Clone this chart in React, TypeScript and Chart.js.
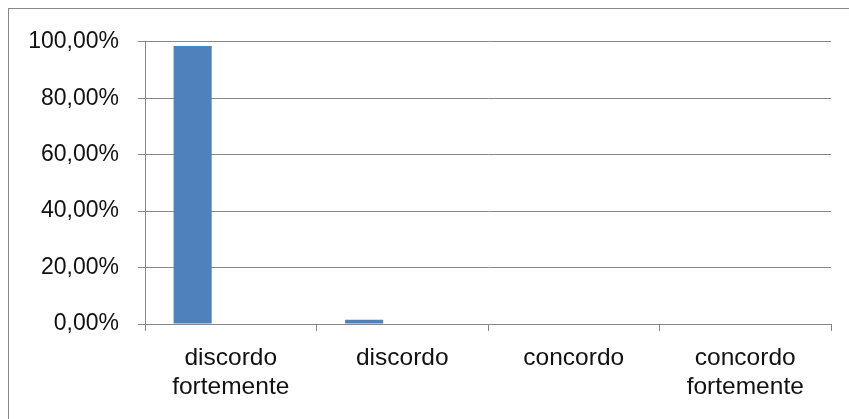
import React, { useEffect, useRef } from "react";
import { Chart, registerables } from "chart.js";

Chart.register(...registerables);

const categories: string[][] = [
  ["discordo", "fortemente"],
  ["discordo"],
  ["concordo"],
  ["concordo", "fortemente"],
];
const seriesValues: number[] = [98.5, 1.5, 0, 0];
const emptySeriesA: number[] = [];
const emptySeriesB: number[] = [];
const yTickValues: number[] = [0, 20, 40, 60, 80, 100];

const FONT = "'Liberation Sans', Arial, sans-serif";
const GRID = "#878787";

export default function App() {
  const ref = useRef<HTMLCanvasElement | null>(null);
  useEffect(() => {
    if (!ref.current) return;
    const chart = new Chart(ref.current, {
      type: "bar",
      data: {
        labels: categories,
        datasets: [
          { label: "s1", data: seriesValues, backgroundColor: "#4F81BD", barPercentage: 1, categoryPercentage: 3 / 4.5 },
          { label: "s2", data: emptySeriesA, backgroundColor: "#C0504D", barPercentage: 1, categoryPercentage: 3 / 4.5 },
          { label: "s3", data: emptySeriesB, backgroundColor: "#9BBB59", barPercentage: 1, categoryPercentage: 3 / 4.5 },
        ],
      },
      options: {
        animation: false,
        responsive: false,
        devicePixelRatio: 1,
        layout: { padding: { left: 0, top: 31, right: 18, bottom: 0 } },
        plugins: { legend: { display: false }, tooltip: { enabled: false } },
        scales: {
          x: {
            grid: { offset: true, drawOnChartArea: false, drawTicks: true, tickLength: 7, color: GRID, lineWidth: 1 },
            border: { color: GRID },
            ticks: { color: "#111", font: { family: FONT, size: 24.5, lineHeight: 1.18 }, padding: 13, maxRotation: 0, autoSkip: false },
            afterFit: (s: any) => { s.height = 95; },
          },
          y: {
            min: 0,
            max: 100,
            afterBuildTicks: (s: any) => { s.ticks = yTickValues.map((v) => ({ value: v })); },
            grid: { color: GRID, tickLength: 7, lineWidth: 1 },
            border: { color: GRID },
            ticks: {
              color: "#111",
              font: { family: FONT, size: 23 },
              padding: 19,
              callback: (v: any) => Number(v).toFixed(2).replace(".", ",") + "%",
            },
            afterFit: (s: any) => { s.width = 136; },
          },
        },
      },
    });
    return () => chart.destroy();
  }, []);
  return (
    <div style={{ position: "absolute", left: 0, top: 0, width: 849, height: 419, overflow: "hidden", background: "#fff" }}>
      <div
        style={{
          position: "absolute",
          left: 8,
          top: 8,
          width: 860,
          height: 430,
          border: "1px solid #888",
          background: "#fff",
        }}
      >
        <canvas ref={ref} width={840} height={410} style={{ display: "block" }} />
      </div>
    </div>
  );
}
